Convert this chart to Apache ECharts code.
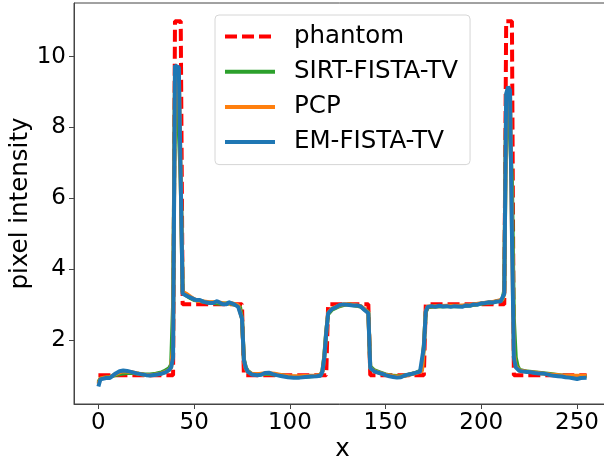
<!DOCTYPE html>
<html>
<head>
<meta charset="utf-8">
<script src="https://cdn.jsdelivr.net/npm/echarts@6/dist/echarts.min.js"></script>
<style>
    html, body { margin: 0; padding: 0; background: #fff; }
    #chart { width: 604px; height: 461px; }
</style>
</head>
<body>
<div id="chart"></div>
<script>
    // values, [x, pixel intensity]
    var xTicks = [0, 50, 100, 150, 200, 250];
    var yTicks = [2, 4, 6, 8, 10];

    var phantom = [[0,1],[39,1],[40,11],[43,11],[44,3],[75,3],[76,1],[119,1],[120,3],[141,3],[142,1],
        [170,1],[171,3],[212,3],[213,11],[216,11],[217,1],[255,1]];

    var sirt = [[0,0.8],[1,0.9],[3,0.93],[6,0.95],[9,1.0],[12,1.04],[15,1.06],[18,1.06],[21,1.04],[24,1.02],
        [27,1.02],[30,1.04],[33,1.08],[35,1.13],[37,1.2],[38,1.3],[39,3.0],[40,9.1],[41,9.35],[42,9.3],[43,6.5],
        [44,3.35],[46,3.25],[48,3.18],[50,3.12],[53,3.1],[56,3.06],[60,3.04],[64,3.02],[68,3.03],[72,2.98],
        [74,2.92],[75,2.6],[76,1.45],[77,1.22],[78,1.12],[80,1.04],[84,1.02],[88,1.04],[92,1.02],[96,0.99],
        [100,0.96],[105,0.95],[110,0.96],[114,0.98],[116,1.0],[117,1.12],[118,1.55],[119,2.25],[120,2.72],
        [122,2.85],[125,2.93],[128,2.98],[131,3.0],[134,2.97],[137,2.94],[139,2.86],[141,2.78],[142,1.25],
        [144,1.14],[147,1.08],[150,1.02],[154,0.98],[158,0.97],[162,1.01],[166,1.07],[169,1.14],[170,1.85],
        [171,2.78],[172,2.92],[176,2.94],[182,2.95],[188,2.95],[194,2.97],[200,3.02],[206,3.06],[211,3.12],
        [212,3.4],[213,8.6],[214,8.95],[215,8.9],[216,6.5],[217,2.6],[218,1.5],[219,1.25],[220,1.15],[224,1.1],
        [230,1.07],[236,1.03],[242,0.99],[248,0.97],[252,0.97],[255,0.97]];

    var pcp = [[0,0.75],[1,0.9],[3,0.93],[6,0.94],[9,1.03],[12,1.1],[15,1.1],[18,1.08],[21,1.04],[24,1.01],
        [27,1.0],[30,1.02],[33,1.05],[35,1.09],[37,1.15],[38,1.22],[39,1.8],[40,9.6],[41,9.7],[42,9.6],[43,6.5],
        [44,3.35],[46,3.3],[48,3.22],[50,3.15],[52,3.1],[55,3.08],[58,3.06],[62,3.07],[66,3.02],[70,3.03],
        [73,2.98],[74,2.95],[75,2.6],[76,1.4],[77,1.18],[78,1.1],[80,1.04],[84,1.03],[88,1.06],[92,1.04],
        [96,1.0],[100,0.97],[105,0.97],[110,0.98],[114,0.99],[116,1.0],[117,1.1],[118,1.5],[119,2.2],[120,2.76],
        [122,2.88],[125,2.95],[128,3.0],[131,3.0],[134,2.98],[137,2.95],[139,2.86],[141,2.76],[142,1.2],
        [144,1.12],[147,1.06],[150,1.01],[154,0.97],[158,0.96],[162,1.01],[166,1.06],[169,1.12],[170,1.8],
        [171,2.8],[172,2.94],[176,2.95],[182,2.96],[188,2.96],[194,2.98],[200,3.03],[206,3.07],[211,3.13],
        [212,3.3],[213,8.9],[214,9.1],[215,9.0],[216,5.2],[217,1.6],[218,1.25],[220,1.13],[224,1.1],[230,1.06],
        [236,1.02],[242,0.99],[248,0.98],[252,0.98],[255,0.98]];

    var emFista = [[0,0.68],[1,0.88],[2,0.92],[4,0.92],[6,0.92],[7,0.95],[9,1.05],[11,1.11],[13,1.13],[15,1.12],
        [18,1.08],[20,1.05],[22,1.03],[25,1.0],[27,0.99],[30,1.01],[33,1.04],[35,1.08],[37,1.15],[38,1.22],
        [39,1.5],[40,9.75],[41,9.78],[42,9.7],[43,6.5],[44,3.3],[45,3.25],[47,3.22],[49,3.17],[51,3.12],
        [52,3.08],[53,3.12],[54,3.15],[55,3.07],[56,3.06],[58,3.04],[60,3.04],[62,3.09],[63,3.05],[65,3.0],
        [66,2.97],[67,3.0],[68,3.06],[69,3.04],[71,3.0],[73,2.93],[74,2.9],[75,2.6],[76,1.42],[77,1.2],
        [78,1.1],[80,1.02],[83,1.0],[85,1.01],[87,1.06],[89,1.07],[91,1.03],[93,1.0],[96,0.97],[99,0.94],
        [102,0.93],[105,0.93],[108,0.95],[111,0.96],[114,0.97],[116,0.98],[117,1.1],[118,1.5],[119,2.2],
        [120,2.75],[122,2.87],[124,2.92],[126,2.98],[128,3.0],[129,3.03],[130,2.99],[131,3.02],[133,2.97],
        [135,2.97],[137,2.94],[139,2.84],[141,2.75],[142,1.2],[144,1.11],[146,1.07],[148,1.04],[150,1.0],
        [152,0.97],[154,0.95],[156,0.93],[158,0.94],[160,0.99],[162,1.02],[164,1.04],[166,1.07],[168,1.1],
        [169,1.15],[170,1.8],[171,2.8],[172,2.93],[174,2.95],[176,2.93],[178,2.96],[180,2.94],[182,2.95],
        [184,2.93],[186,2.95],[188,2.94],[190,2.93],[192,2.97],[194,2.96],[196,3.0],[198,2.99],[200,3.03],
        [202,3.04],[204,3.06],[206,3.05],[208,3.08],[210,3.08],[211,3.12],[212,3.3],[213,8.95],[214,9.15],
        [215,9.05],[216,5.0],[217,1.5],[218,1.22],[220,1.12],[222,1.1],[224,1.09],[226,1.08],[228,1.06],
        [230,1.05],[232,1.05],[234,1.03],[236,1.0],[238,0.98],[240,0.97],[242,0.96],[244,0.94],[246,0.93],
        [248,0.91],[250,0.89],[252,0.92],[255,0.93]];

    var font = 'DejaVu Sans';
    var chart = echarts.init(document.getElementById('chart'));

    function lineSeries(name, data, color, dashed) {
        return {
            name: name,
            type: 'line',
            data: data,
            showSymbol: false,
            symbol: 'none',
            animation: false,
            lineStyle: {
                color: color,
                width: 4,
                type: dashed ? [12, 5] : 'solid'
            },
            itemStyle: { color: color }
        };
    }

    chart.setOption({
        animation: false,
        grid: {
            left: 74,
            top: 3,
            right: -7,
            bottom: 57,
            outerBoundsMode: 'none',
            containLabel: false,
            show: true,
            borderColor: '#444',
            borderWidth: 1
        },
        legend: {
            orient: 'vertical',
            left: 215,
            top: 15,
            padding: [9, 12, 10, 8],
            itemWidth: 50,
            itemHeight: 22,
            itemGap: 10.2,
            backgroundColor: 'rgba(255,255,255,0.85)',
            borderColor: '#d6d6d6',
            borderWidth: 1,
            borderRadius: 4,
            itemStyle: { opacity: 0 },
            lineStyle: { width: 4 },
            textStyle: {
                fontFamily: font,
                fontSize: 24.5,
                color: '#000',
                padding: [0, 0, 0, 14]
            },
            data: ['phantom', 'SIRT-FISTA-TV', 'PCP', 'EM-FISTA-TV']
        },
        xAxis: {
            type: 'value',
            min: -12.75,
            max: 267.75,
            name: 'x',
            nameLocation: 'middle',
            nameGap: 33,
            nameMoveOverlap: false,
            nameTextStyle: { fontFamily: font, fontSize: 24.5, color: '#000' },
            splitLine: { show: false },
            axisLine: { show: true, onZero: false, lineStyle: { color: '#444', width: 1 } },
            axisTick: { show: true, length: 5, customValues: xTicks, lineStyle: { color: '#444' } },
            axisLabel: { customValues: xTicks, margin: 8, fontFamily: font, fontSize: 23, color: '#000' }
        },
        yAxis: {
            type: 'value',
            min: 0.185,
            max: 11.515,
            name: 'pixel intensity',
            nameLocation: 'middle',
            nameGap: 41,
            nameMoveOverlap: false,
            nameTextStyle: { fontFamily: font, fontSize: 24.5, color: '#000' },
            splitLine: { show: false },
            axisLine: { show: true, onZero: false, lineStyle: { color: '#444', width: 1 } },
            axisTick: { show: true, length: 5, customValues: yTicks, lineStyle: { color: '#444' } },
            axisLabel: { customValues: yTicks, margin: 8, fontFamily: font, fontSize: 23, color: '#000' }
        },
        series: [
            lineSeries('phantom', phantom, '#ff0000', true),
            lineSeries('SIRT-FISTA-TV', sirt, '#2ca02c', false),
            lineSeries('PCP', pcp, '#ff7f0e', false),
            lineSeries('EM-FISTA-TV', emFista, '#1f77b4', false)
        ]
    });
</script>
</body>
</html>
